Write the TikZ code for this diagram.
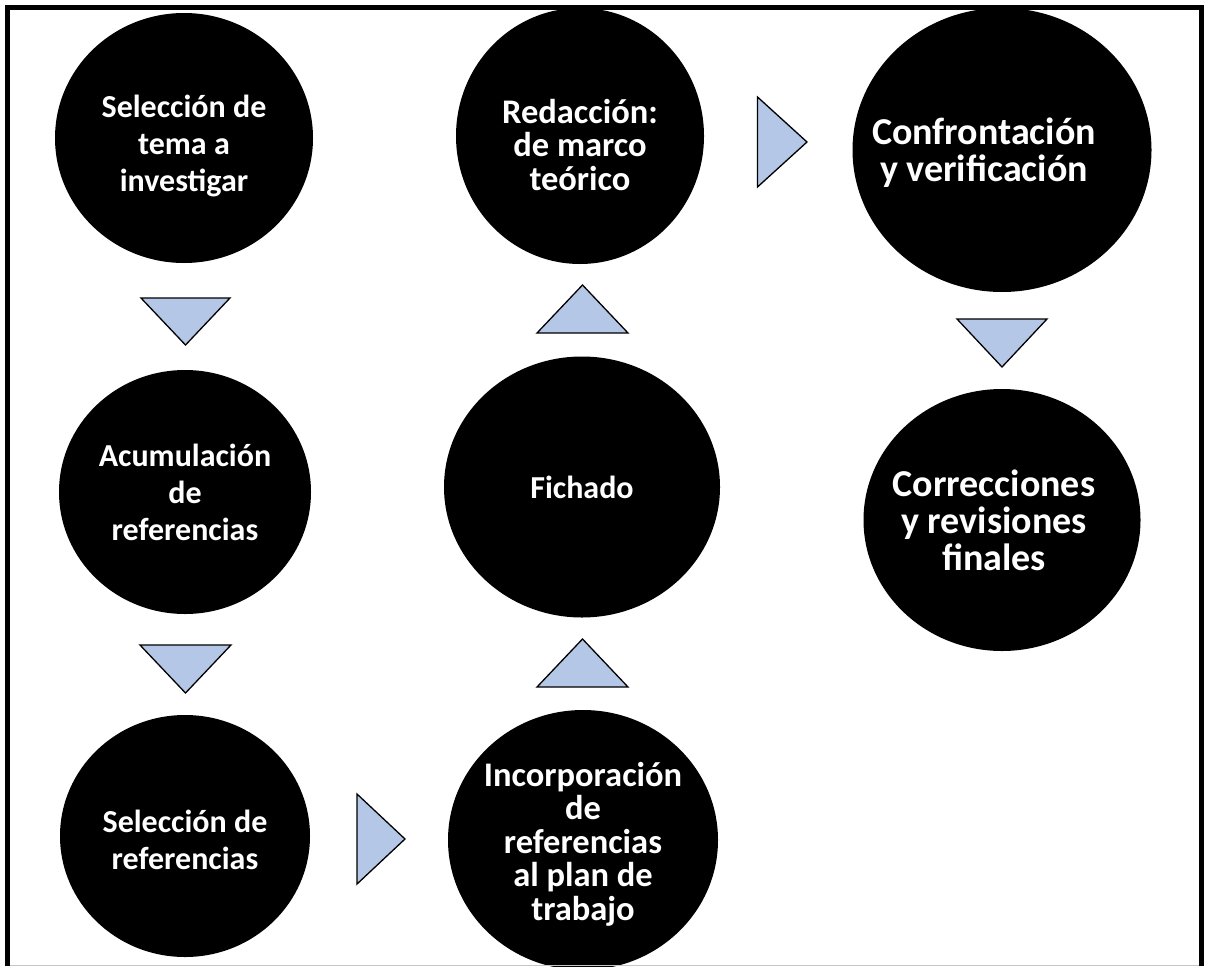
\documentclass[tikz,border=0pt]{standalone}
\usepackage{fontspec}
\setmainfont{Carlito}
\usetikzlibrary{shapes.geometric}
\definecolor{triblue}{HTML}{B4C7E7}
\tikzset{
  stage/.style={ellipse, fill=black, inner sep=0pt},
  stagetext/.style={text=white, font=\bfseries\fontsize{32}{37}\selectfont, align=center, inner sep=0pt},
  midtext/.style={stagetext, font=\bfseries\fontsize{34.5}{33.5}\selectfont},
  bigtext/.style={stagetext, font=\bfseries\fontsize{38}{37}\selectfont},
  flowtri/.style={draw=black, fill=triblue, line width=1.3pt, line join=miter},
  frameline/.style={line width=5pt, draw=black, line join=miter},
}
\begin{document}
\begin{tikzpicture}[x=1pt,y=-1pt]
\useasboundingbox (0,0) rectangle (1206,966);
% stages
\node[stage, minimum width=258pt, minimum height=250pt] (tema) at (184,138) {};
\node[stagetext] (tema-t) at ([yshift=-8pt]tema.center) {Selección de\\tema a\\investigar};
\node[stage, minimum width=252pt, minimum height=244pt] (acum) at (185,492) {};
\node[stagetext] (acum-t) at (acum.center) {Acumulación\\de\\referencias};
\node[stage, minimum width=250pt, minimum height=242pt] (selref) at (185,836) {};
\node[stagetext] (selref-t) at ([yshift=-4pt]selref.center) {Selección de\\referencias};
\node[stage, minimum width=270pt, minimum height=260pt] (incorp) at (583,840) {};
\node[midtext] (incorp-t) at ([yshift=-4pt]incorp.center) {Incorporación\\de\\referencias\\al plan de\\trabajo};
\node[stage, minimum width=276pt, minimum height=261pt] (fich) at (582,487) {};
\node[stagetext] (fich-t) at (fich.center) {Fichado};
\node[stage, minimum width=248pt, minimum height=256pt] (redac) at (580,136) {};
\node[midtext] (redac-t) at ([yshift=-9pt]redac.center) {Redacción:\\de marco\\teórico};
\node[stage, minimum width=299pt, minimum height=284pt] (confr) at (1002,150) {};
\node[bigtext] (confr-t) at ([xshift=-18pt,yshift=-3pt]confr.center) {Confrontación\\y verificación};
\node[stage, minimum width=277pt, minimum height=262pt] (corr) at (1002,520) {};
\node[bigtext] (corr-t) at ([xshift=-8pt]corr.center) {Correcciones\\y revisiones\\finales};
% flow triangles
\draw[flowtri] (141,298) -- (230,298) -- (185.5,345) -- cycle;
\draw[flowtri] (140,645) -- (231,645) -- (185.5,693) -- cycle;
\draw[flowtri] (357,794) -- (357,884) -- (405,839) -- cycle;
\draw[flowtri] (537,687) -- (628,687) -- (582.5,639) -- cycle;
\draw[flowtri] (537,333) -- (628,333) -- (582.5,285) -- cycle;
\draw[flowtri] (757.5,97) -- (757.5,187) -- (807,142) -- cycle;
\draw[flowtri] (957,319) -- (1047,319) -- (1002,367) -- cycle;
% frame
\draw[frameline] (7.5,966) -- (7.5,7.5) -- (1201.5,7.5) -- (1201.5,966);
\draw[gray!45, line width=1.2pt] (10,965.3) -- (1199,965.3);
\end{tikzpicture}
\end{document}
